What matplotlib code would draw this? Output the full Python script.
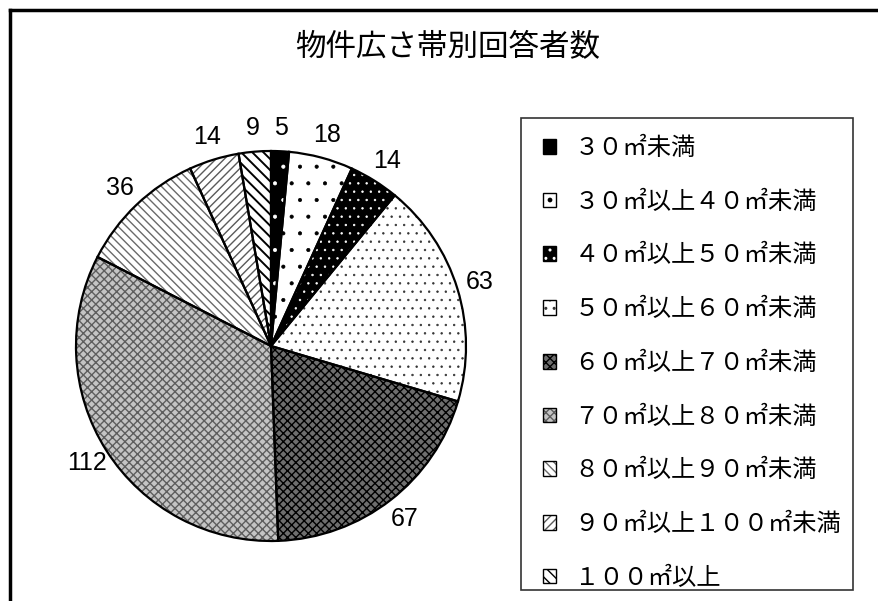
import matplotlib
matplotlib.use("Agg")
import matplotlib.pyplot as plt
from matplotlib.patches import Patch, Rectangle
from matplotlib.lines import Line2D

plt.rcParams['font.family'] = ['Noto Sans CJK JP', 'DejaVu Sans']
plt.rcParams['hatch.linewidth'] = 1.0

title = '物件広さ帯別回答者数'
categories = ['３０㎡未満', '３０㎡以上４０㎡未満', '４０㎡以上５０㎡未満',
              '５０㎡以上６０㎡未満', '６０㎡以上７０㎡未満', '７０㎡以上８０㎡未満',
              '８０㎡以上９０㎡未満', '９０㎡以上１００㎡未満', '１００㎡以上']
counts = [5, 18, 14, 63, 67, 112, 36, 14, 9]

# fill colour, hatch pattern, hatch colour and hatch width for each slice
fills = ['black', 'white', 'black', 'white', '#6e6e6e', '#c4c4c4', 'white', 'white', 'white']
hatches = ['.', '.', '..', '..', 'xxxx', 'xxxx', '\\\\\\\\', '////', '\\\\\\']
hatch_colors = ['white', 'black', 'white', '#333333', 'black', '#5e5e5e', '#6a6a6a', '#5a5a5a', 'black']
hatch_widths = [0.5, 0.5, 0.5, 0.5, 1.0, 1.0, 1.0, 1.0, 1.4]

W, H = 879, 601
fig = plt.figure(figsize=(W / 100, H / 100), dpi=100)


def style_patch(p, fc, h, hc, hw):
    p.set_facecolor(fc)
    p.set_edgecolor(hc)
    p.set_hatch(h)
    if hasattr(p, 'set_hatch_linewidth'):
        p.set_hatch_linewidth(hw)


ax = fig.add_axes([76 / W, 60 / H, 390 / W, 390 / H])
wedges, texts = ax.pie(counts, startangle=90, counterclock=False,
                       labels=[str(c) for c in counts], labeldistance=1.12,
                       wedgeprops=dict(linewidth=0),
                       textprops=dict(family='Liberation Sans', fontsize=18))
for w, fc, h, hc, hw in zip(wedges, fills, hatches, hatch_colors, hatch_widths):
    style_patch(w, fc, h, hc, hw)
for t in texts:
    t.set_ha('center')
    t.set_va('center')

# black outlines drawn over the hatched wedges
ax.pie(counts, startangle=90, counterclock=False,
       wedgeprops=dict(fill=False, edgecolor='black', linewidth=1.6))
ax.set_xlim(-1, 1)
ax.set_ylim(-1, 1)

fig.text(448 / W, 1 - 47 / H, title, fontsize=22, ha='center', va='center')

# legend box
fig.add_artist(Rectangle((521 / W, 1 - 590 / H), 332 / W, 472 / H,
                         transform=fig.transFigure, fill=False,
                         edgecolor='#333333', linewidth=1.2))

handles = []
for fc, h, hc, hw in zip(fills, hatches, hatch_colors, hatch_widths):
    base = Patch(linewidth=0)
    style_patch(base, fc, h, hc, hw)
    handles.append((base, Patch(facecolor='none', edgecolor='black', linewidth=1.0)))
fig.legend(handles, categories, loc='upper left',
           bbox_to_anchor=(543 / W, 1 - 135 / H), frameon=False,
           fontsize=17.5, handlelength=0.55, handleheight=0.55,
           handletextpad=0.75, labelspacing=1.14, borderpad=0, borderaxespad=0)

# outer chart frame
fig.add_artist(Line2D([10 / W, 1], [1 - 10 / H, 1 - 10 / H],
                      transform=fig.transFigure, color='black', linewidth=2.5))
fig.add_artist(Line2D([10 / W, 10 / W], [0, 1 - 10 / H],
                      transform=fig.transFigure, color='black', linewidth=2.5))

fig.savefig('out.png', dpi=100, facecolor='white')
